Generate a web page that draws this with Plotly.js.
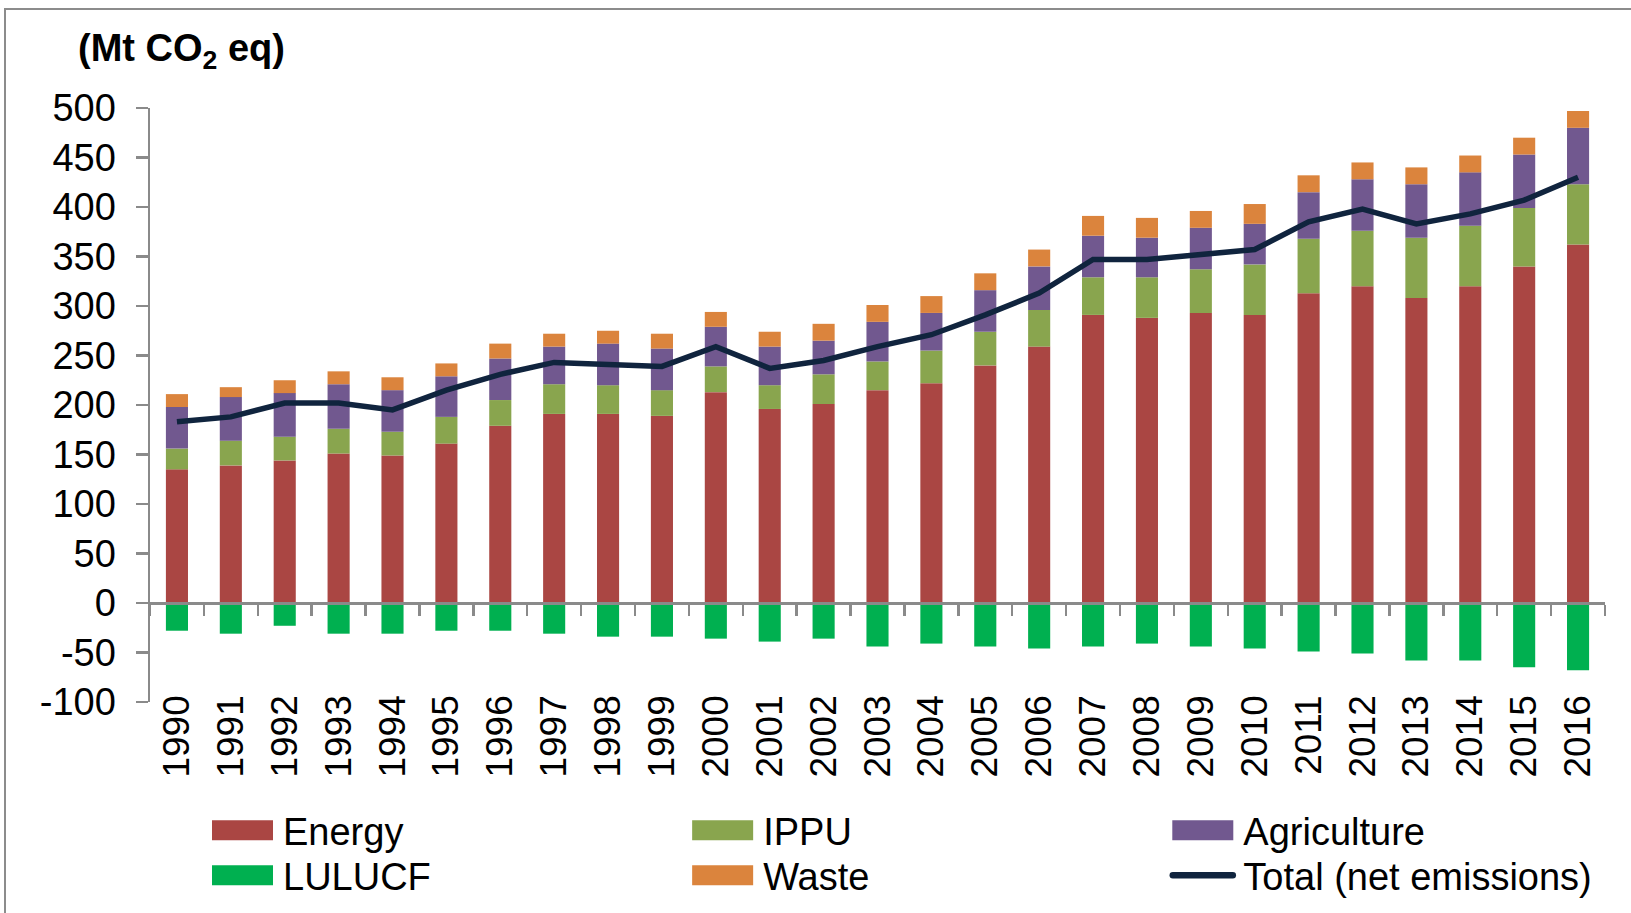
<!DOCTYPE html>
<html>
<head>
<meta charset="utf-8">
<script src="https://cdn.plot.ly/plotly-3.0.1.min.js"></script>
<style>
  html, body { margin:0; padding:0; background:#ffffff; overflow:hidden; }
  #frame { position:absolute; left:4px; top:8px; width:1700px; height:1000px;
           border-left:2px solid #8c8c8c; border-top:2px solid #8c8c8c; z-index:0; }
  #chart { position:absolute; left:0; top:0; width:1631px; height:913px; z-index:1; }
</style>
</head>
<body>
<div id="frame"></div>
<div id="chart"></div>
<script>
// ---- data (Mt CO2 eq) ----
const years = ['1990','1991','1992','1993','1994','1995','1996','1997','1998','1999',
               '2000','2001','2002','2003','2004','2005','2006','2007','2008','2009',
               '2010','2011','2012','2013','2014','2015','2016'];
const energy      = [135,139,144,151,149,161,179,191,191,189,213,196,201,215,222,240,259,291,288,293,291,313,320,308,320,340,362];
const ippu        = [21,25,24,25,24,27,26,30,29,26,26,24,30,29,33,34,37,38,41,44,51,55,56,61,61,59,61];
const agriculture = [42,44,44,45,42,41,42,38,42,42,40,39,34,40,38,42,44,42,40,42,41,47,52,54,54,54,57];
const lulucf      = [-28,-31,-23,-31,-31,-28,-28,-31,-34,-34,-36,-39,-36,-44,-41,-44,-46,-44,-41,-44,-46,-49,-51,-58,-58,-65,-68];
const waste       = [13,10,13,13,13,13,15,13,13,15,15,15,17,17,17,17,17,20,20,17,20,17,17,17,17,17,17];
const total       = [183,188,202,202,195,215,231,243,241,239,259,237,245,259,271,291,313,347,347,352,357,385,398,383,393,407,430];
const yTicks = [-100,-50,0,50,100,150,200,250,300,350,400,450,500];

// ---- style ----
const FONT = 'Liberation Sans, Arial, sans-serif';
const AXIS_GREY = '#8a8a8a';
const yMin = -100, yMax = 500;
const M = {l:150, r:26, t:108, b:211, autoexpand:false};
const W = 1631, H = 913;

function barTrace(name, y, color) {
  return {type:'bar', name:name, x:years, y:y,
          marker:{color:color, line:{width:0}}, hoverinfo:'skip'};
}

const data = [
  barTrace('Energy', energy, '#AA4643'),
  barTrace('IPPU', ippu, '#89A54E'),
  barTrace('Agriculture', agriculture, '#71588F'),
  barTrace('LULUCF', lulucf, '#00B050'),
  barTrace('Waste', waste, '#DB843D'),
  {type:'scatter', mode:'lines', name:'Total (net emissions)', x:years, y:total,
   line:{color:'#10243E', width:5.5}, hoverinfo:'skip'}
];

const layout = {
  width:W, height:H,
  margin:M,
  paper_bgcolor:'rgba(0,0,0,0)',
  plot_bgcolor:'rgba(0,0,0,0)',
  font:{family:FONT, size:36, color:'#000000'},
  barmode:'relative',
  bargap:0.59,
  showlegend:true,
  title:{
    text:'<b>(Mt CO<sub>2</sub> eq)</b>',
    font:{family:FONT, size:38, color:'#000000'},
    xref:'container', x:78/W, xanchor:'left',
    yref:'container', y:1 - 48/H, yanchor:'middle'
  },
  xaxis:{
    type:'category',
    categoryarray:years,
    anchor:'free',
    position:(0 - yMin)/(yMax - yMin),
    showline:true, linecolor:AXIS_GREY, linewidth:2.5,
    ticks:'outside', tickson:'boundaries', ticklen:11, tickwidth:2.5, tickcolor:AXIS_GREY,
    tickangle:-90,
    tickfont:{family:FONT, size:37, color:'#000000'},
    ticklabelstandoff:76,
    showgrid:false, zeroline:false,
    fixedrange:true
  },
  yaxis:{
    range:[yMin, yMax],
    tickvals:yTicks,
    ticktext:yTicks.map(String),
    showline:true, linecolor:AXIS_GREY, linewidth:2.5,
    ticks:'outside', ticklen:12, tickwidth:2.5, tickcolor:AXIS_GREY,
    tickfont:{family:FONT, size:38, color:'#000000'},
    ticklabelstandoff:12,
    showgrid:false, zeroline:false,
    fixedrange:true
  },
  legend:{
    orientation:'h',
    traceorder:'normal',
    xref:'container', yref:'container',
    x:202/W, xanchor:'left',
    y:1 - 799/H, yanchor:'top',
    font:{family:FONT, size:38, color:'#000000'},
    itemwidth:71,
    entrywidth:0.33, entrywidthmode:'fraction',
    bgcolor:'rgba(0,0,0,0)',
    borderwidth:0,
    tracegroupgap:0
  },
  hovermode:false
};

const LEGEND_ROW_GAP = 45;

function fixLegend(gd){
  // wide Excel-style swatches for the bar entries
  gd.querySelectorAll('.legend .legendpoints path').forEach(function(p){
    var d = (p.getAttribute('d') || '').replace(/\s/g, '');
    if (d === 'M6,6H-6V-6H6Z') p.setAttribute('d', 'M30.5,10H-30.5V-10H30.5Z');
  });
  // shorter line sample with round caps
  gd.querySelectorAll('.legend path.js-line').forEach(function(p){
    var d = p.getAttribute('d') || '';
    var m = d.match(/^M([-\d.]+),([-\d.]+)h([-\d.]+)/);
    if (m) {
      var x0 = parseFloat(m[1]), len = parseFloat(m[3]);
      var nx = x0 + (len - 60) / 2;
      p.setAttribute('d', 'M' + nx + ',' + m[2] + 'h60');
    }
    p.style.strokeLinecap = 'round';
    p.style.strokeWidth = '6.5px';
  });
  // tighter row spacing
  var items = [];
  gd.querySelectorAll('.legend g.traces').forEach(function(g){
    var t = g.getAttribute('transform') || '';
    var m = t.match(/translate\(([-\d.e]+)[ ,]+([-\d.e]+)\)/);
    if (m) items.push({g:g, x:parseFloat(m[1]), y:parseFloat(m[2])});
  });
  if (items.length) {
    var ys = Array.from(new Set(items.map(function(o){ return o.y; }))).sort(function(a,b){ return a-b; });
    items.forEach(function(o){
      var row = ys.indexOf(o.y);
      var ny = ys[0] + row * LEGEND_ROW_GAP;
      o.g.setAttribute('transform', 'translate(' + o.x + ',' + ny + ')');
    });
  }
}

Plotly.newPlot('chart', data, layout, {staticPlot:true, displayModeBar:false}).then(function(gd){
  fixLegend(gd);
});
</script>
</body>
</html>
